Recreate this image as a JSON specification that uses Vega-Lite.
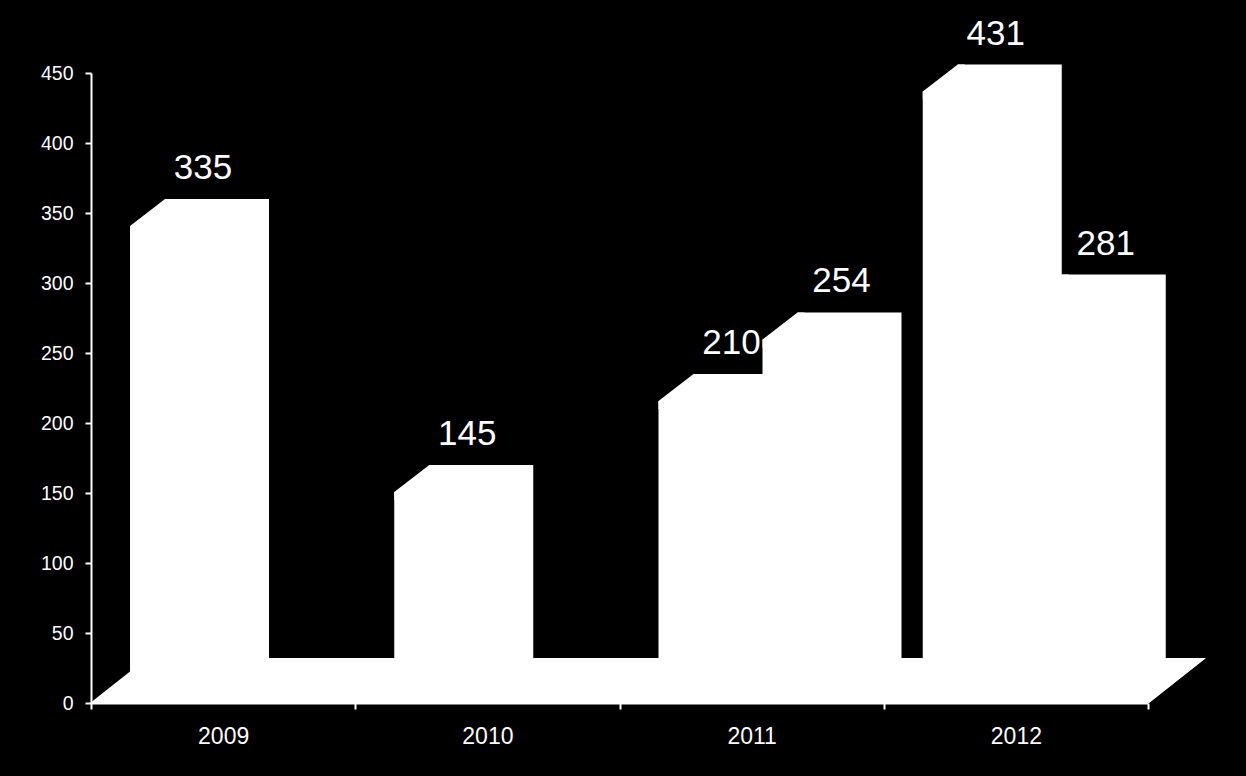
{
  "$schema": "https://vega.github.io/schema/vega-lite/v6.json",
  "width": 1057,
  "height": 630,
  "autosize": "none",
  "padding": {"left": 91, "top": 73, "right": 98, "bottom": 73},
  "background": "black",
  "config": {
    "view": {"stroke": null},
    "font": "Liberation Sans",
    "axisY": {
      "domainColor": "white", "domainWidth": 2, "tickColor": "white", "tickWidth": 2, "tickSize": 6,
      "labelColor": "white", "labelFontSize": 19.5, "labelPadding": 12, "labelFont": "Liberation Sans",
      "grid": false, "zindex": 1
    },
    "axisX": {
      "domainColor": "white", "domainWidth": 2, "tickColor": "white", "tickWidth": 2, "tickSize": 6,
      "labelColor": "white", "labelFontSize": 23, "labelPadding": 16, "labelFont": "Liberation Sans",
      "labelAngle": 0, "grid": false, "zindex": 1
    }
  },
  "data": {
    "values": [
      {"year": "2009", "series": "A", "value": 335},
      {"year": "2010", "series": "A", "value": 145},
      {"year": "2011", "series": "A", "value": 210},
      {"year": "2011", "series": "B", "value": 254},
      {"year": "2012", "series": "A", "value": 431},
      {"year": "2012", "series": "B", "value": 281}
    ]
  },
  "encoding": {
    "x": {
      "field": "year", "type": "nominal",
      "scale": {"paddingInner": 0, "paddingOuter": 0},
      "axis": {"title": null, "tickBand": "extent"}
    }
  },
  "layer": [
    {
      "mark": {"type": "point", "shape": "M-133,0L133,0L190,-45L-76,-45Z", "size": 4, "filled": true, "fill": "white", "strokeWidth": 0, "opacity": 1},
      "encoding": {
        "y": {"datum": 0, "type": "quantitative", "scale": {"domain": [0, 450], "nice": false}, "axis": {"title": null, "values": [0, 50, 100, 150, 200, 250, 300, 350, 400, 450]}}
      }
    },
    {
      "mark": {"type": "bar", "fill": "white", "yOffset": -35, "y2Offset": -45},
      "encoding": {
        "xOffset": {"field": "series", "type": "nominal", "scale": {"domain": ["A", "B"], "range": [74, 282], "paddingInner": 0, "paddingOuter": 0}},
        "y": {"field": "value", "type": "quantitative", "title": null},
        "y2": {"datum": 0}
      }
    },
    {
      "mark": {"type": "bar", "fill": "white", "yOffset": -8, "y2Offset": -31},
      "encoding": {
        "xOffset": {"field": "series", "type": "nominal", "scale": {"domain": ["A", "B"], "range": [39, 247], "paddingInner": 0, "paddingOuter": 0}},
        "y": {"field": "value", "type": "quantitative", "title": null},
        "y2": {"datum": 0}
      }
    },
    {
      "mark": {"type": "point", "shape": "M0,-8L35,-35L42,-35L42,0L0,0Z", "size": 4, "filled": true, "fill": "white", "strokeWidth": 0, "opacity": 1},
      "encoding": {
        "xOffset": {"field": "series", "type": "nominal", "scale": {"domain": ["A", "B"], "range": [39, 143], "padding": 0}},
        "y": {"field": "value", "type": "quantitative", "title": null}
      }
    },
    {
      "mark": {"type": "text", "color": "white", "fontSize": 35, "font": "Liberation Sans", "dx": 73, "dy": -55, "baseline": "alphabetic", "align": "center"},
      "encoding": {
        "xOffset": {"field": "series", "type": "nominal", "scale": {"domain": ["A", "B"], "range": [39, 149], "padding": 0}},
        "y": {"field": "value", "type": "quantitative", "title": null},
        "text": {"field": "value", "type": "quantitative"}
      }
    }
  ],
  "resolve": {"scale": {"xOffset": "independent"}}
}
